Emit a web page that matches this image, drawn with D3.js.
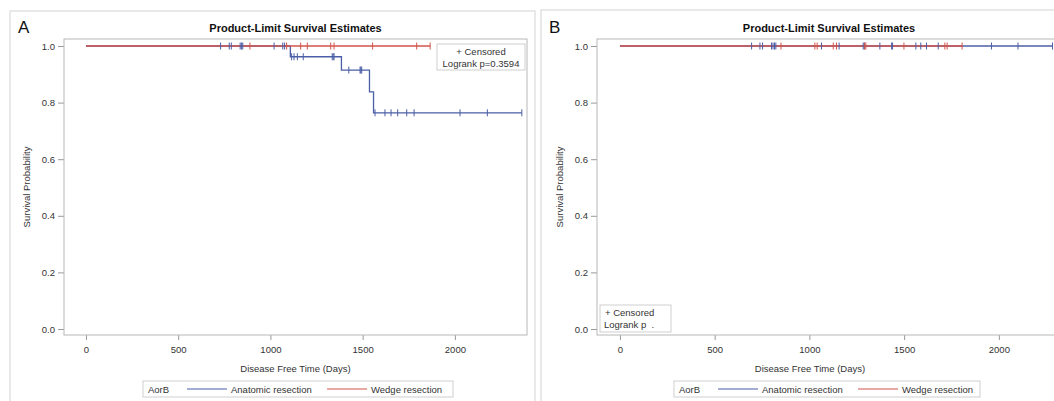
<!DOCTYPE html>
<html lang="en">
<head>
<meta charset="utf-8">
<title>Product-Limit Survival Estimates</title>
<script src="https://cdn.jsdelivr.net/npm/d3@7"></script>
<style>
  body { margin: 0; background: #fff; }
  svg text { font-family: "Liberation Sans", Arial, sans-serif; fill: #333; }
</style>
</head>
<body>
<svg width="1054" height="401"></svg>
<script>
// ---- data ----
var groups = ["Anatomic resection", "Wedge resection"];
var xTicks = [0, 500, 1000, 1500, 2000];
var yTicks = [0, 0.2, 0.4, 0.6, 0.8, 1.0];

// panel A : survival steps [time, survival after step]
var stepsA_anat = [[0, 1.0], [1108, 0.962], [1385, 0.915], [1537, 0.838], [1559, 0.764]];
var endA_anat = 2363;
var stepsA_wedge = [[0, 1.0]];
var endA_wedge = 1866;
var censA_anat = [730, 777, 788, 836, 843, 850, 1020, 1067, 1077,
                  1115, 1128, 1146, 1178, 1335, 1340, 1345,
                  1425, 1486, 1490, 1495,
                  1567, 1621, 1654, 1690, 1739, 1779, 2028, 2176, 2363];
var censA_wedge = [889, 1088, 1164, 1200, 1327, 1345, 1554, 1793, 1866];
var pvalA = "Logrank p=0.3594";

// panel B
var stepsB_anat = [[0, 1.0]];
var endB_anat = 2283;
var stepsB_wedge = [[0, 1.0]];
var endB_wedge = 1806;
var censB_anat = [695, 739, 753, 800, 808, 816, 823, 1064, 1157, 1284, 1290, 1372,
                  1434, 1439, 1562, 1588, 1618, 1680, 1961, 2101, 2283];
var censB_wedge = [850, 1029, 1041, 1126, 1143, 1292, 1298, 1499, 1715, 1727, 1806];
var pvalB = "Logrank p  .";

var colors = ["#4b5fa6", "#d2554b"];
var svg = d3.select("svg");

function survAt(steps, t) {
  var s = steps[0][1];
  steps.forEach(function (d) { if (d[0] <= t) s = d[1]; });
  return s;
}

function drawPanel(p) {
  var g = svg.append("g");

  // cadre du panneau
  g.append("rect")
    .attr("x", p.box[0]).attr("y", p.box[1])
    .attr("width", p.box[2]).attr("height", p.box[3])
    .attr("fill", "none").attr("stroke", "#d4d4d4");

  g.append("text").text(p.letter)
    .attr("x", p.box[0] + 8).attr("y", 33)
    .style("font-size", "17px").style("fill", "#111");

  var x = d3.scaleLinear().domain(p.xDom).range([p.left, p.right]);
  var y = d3.scaleLinear().domain([0, 1]).range([329, 46]);

  g.append("text").text("Product-Limit Survival Estimates")
    .attr("x", (p.left + p.right) / 2).attr("y", 32)
    .style("text-anchor", "middle")
    .style("font-size", "11px").style("font-weight", "bold").style("fill", "#111");

  // axes
  var ay = g.append("g").attr("transform", "translate(" + p.left + ",0)")
    .call(d3.axisLeft(y).tickValues(yTicks).tickFormat(d3.format(".1f")).tickSize(6).tickPadding(3));
  var ax = g.append("g").attr("transform", "translate(0," + p.bottom + ")")
    .call(d3.axisBottom(x).tickValues(xTicks).tickFormat(d3.format("d")).tickSize(5).tickPadding(6));
  [ay, ax].forEach(function (a) {
    a.select(".domain").remove();
    a.selectAll("line").attr("stroke", "#999");
    a.selectAll("text").style("font-size", "9.5px").style("fill", "#333")
      .style("font-family", "Liberation Sans, Arial, sans-serif");
  });

  g.append("rect")
    .attr("x", p.left).attr("y", p.top)
    .attr("width", p.right - p.left).attr("height", p.bottom - p.top)
    .attr("fill", "none").attr("stroke", "#b8b8b8");

  g.append("text").text("Survival Probability")
    .attr("transform", "translate(" + (p.left - 34) + "," + ((p.top + p.bottom) / 2) + ") rotate(-90)")
    .style("text-anchor", "middle").style("font-size", "9.5px");

  g.append("text").text("Disease Free Time (Days)")
    .attr("x", (p.left + p.right) / 2 + (p.titleShift || 0)).attr("y", 372)
    .style("text-anchor", "middle").style("font-size", "9.5px");

  var marks = g.append("g");
  var line = d3.line().curve(d3.curveStepAfter)
    .x(function (d) { return x(d[0]); })
    .y(function (d) { return y(d[1]); });

  p.series.forEach(function (s) {
    var pts = s.steps.concat([[s.end, s.steps[s.steps.length - 1][1]]]);
    marks.append("path").datum(pts)
      .attr("d", line).attr("fill", "none")
      .attr("stroke", colors[s.group]).attr("stroke-width", 1.3);
  });
  p.series.forEach(function (s) {
    marks.selectAll(null).data(s.cens).enter().append("line")
      .attr("x1", function (d) { return x(d); })
      .attr("x2", function (d) { return x(d); })
      .attr("y1", function (d) { return y(survAt(s.steps, d)) - 3.5; })
      .attr("y2", function (d) { return y(survAt(s.steps, d)) + 3.5; })
      .attr("stroke", colors[s.group]).attr("stroke-width", 1);
  });

  // boite "Censored"
  var lb = p.inset;
  var mid = p.insetAlign === "middle";
  g.append("rect").attr("x", lb[0]).attr("y", lb[1]).attr("width", lb[2]).attr("height", lb[3])
    .attr("fill", "#fff").attr("stroke", "#cfcfcf");
  g.append("text").text("+ Censored")
    .attr("x", mid ? lb[0] + lb[2] / 2 : lb[0] + 5).attr("y", lb[1] + 11)
    .style("text-anchor", mid ? "middle" : "start")
    .style("font-size", "9.5px");
  g.append("text").text(p.pval)
    .attr("x", mid ? lb[0] + lb[2] / 2 : lb[0] + 4).attr("y", lb[1] + 23)
    .style("text-anchor", mid ? "middle" : "start")
    .style("white-space", "pre")
    .style("font-size", "9.5px");

  // legende du bas
  var lg = p.legend;
  var leg = g.append("g");
  leg.append("rect").attr("x", lg[0]).attr("y", 381).attr("width", lg[1] - lg[0]).attr("height", 16)
    .attr("fill", "#fff").attr("stroke", "#cfcfcf");
  leg.append("text").text("AorB").attr("x", lg[0] + 5).attr("y", 392.5).style("font-size", "9.5px");
  groups.forEach(function (name, i) {
    var x0 = lg[2 + i];
    leg.append("line").attr("x1", x0).attr("x2", x0 + 40).attr("y1", 389).attr("y2", 389)
      .attr("stroke", colors[i]).attr("stroke-width", 1.2);
    leg.append("text").text(name).attr("x", x0 + 44).attr("y", 392.5).style("font-size", "9.5px");
  });
}

drawPanel({
  letter: "A", box: [10, 11, 525, 400],
  left: 64, right: 527, top: 39, bottom: 335, xDom: [-119, 2391],
  series: [
    { group: 0, steps: stepsA_anat, end: endA_anat, cens: censA_anat },
    { group: 1, steps: stepsA_wedge, end: endA_wedge, cens: censA_wedge }
  ],
  inset: [437, 44, 88, 26], insetAlign: "middle", pval: pvalA,
  legend: [143, 453, 187, 327]
});

drawPanel({
  letter: "B", box: [541, 10, 530, 400],
  left: 597, right: 1061, top: 39, bottom: 335, xDom: [-121, 2328],
  series: [
    { group: 0, steps: stepsB_anat, end: endB_anat, cens: censB_anat },
    { group: 1, steps: stepsB_wedge, end: endB_wedge, cens: censB_wedge }
  ],
  inset: [600, 305, 71, 27], insetAlign: "start", pval: pvalB,
  legend: [674, 980, 718, 858], titleShift: -19
});
</script>
</body>
</html>
